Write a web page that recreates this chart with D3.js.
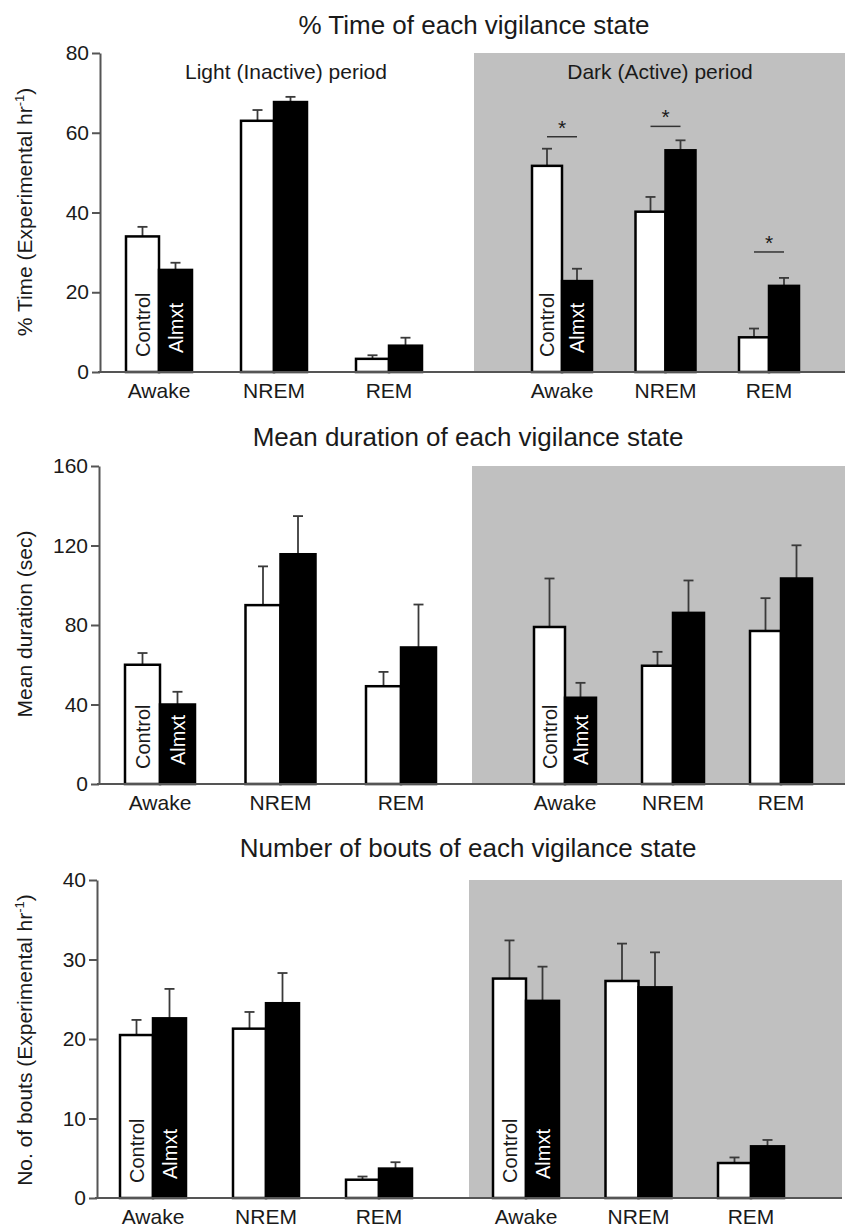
<!DOCTYPE html>
<html>
<head>
<meta charset="utf-8">
<script src="https://cdn.jsdelivr.net/npm/d3@7"></script>
<style>
  body { margin: 0; background: #fff; }
  text { font-family: "Liberation Sans", Arial, sans-serif; fill: #1a1a1a; }
</style>
</head>
<body>
<script>
const states = ["Awake", "NREM", "REM"];
const periods = ["Light", "Dark"];

// % time (light Awake, NREM, REM, then dark Awake, NREM, REM)
const timeControl = [34.0, 63.0, 3.3, 51.7, 40.2, 8.7];
const timeControlErr = [2.4, 2.7, 0.9, 4.3, 3.7, 2.2];
const timeAlmxt = [25.6, 67.7, 6.6, 22.8, 55.6, 21.6];
const timeAlmxtErr = [1.8, 1.3, 2.0, 3.1, 2.5, 2.0];

// mean duration (sec)
const durControl = [60, 90, 49.2, 79, 59.5, 77];
const durControlErr = [5.9, 19.5, 7.2, 24.4, 7.0, 16.5];
const durAlmxt = [40, 115.6, 68.7, 43.4, 86.1, 103.4];
const durAlmxtErr = [6.4, 19.2, 21.6, 7.5, 16.3, 16.7];

// number of bouts
const boutsControl = [20.5, 21.3, 2.3, 27.6, 27.3, 4.4];
const boutsControlErr = [1.9, 2.1, 0.4, 4.8, 4.7, 0.7];
const boutsAlmxt = [22.6, 24.5, 3.7, 24.8, 26.5, 6.5];
const boutsAlmxtErr = [3.7, 3.8, 0.8, 4.3, 4.4, 0.8];

// significance markers (dark period only)
const sigStates = ["Awake", "NREM", "REM"];
const sigLevels = [59, 61.6, 30.1];

const svg = d3.select("body").append("svg")
  .attr("width", 848).attr("height", 1227);

const panels = [
  {
    title: "% Time of each vigilance state", titleX: 474, titleY: 34,
    ylabel: ["% Time (Experimental hr", "-1", ")"], ylabelY: 212,
    max: 80, ticks: [0, 20, 40, 60, 80],
    top: 53, base: 372, axisX: 100,
    light: [159, 389], dark: [562, 769], bw: [33, 30], shade: [474, 845],
    control: timeControl, controlErr: timeControlErr,
    almxt: timeAlmxt, almxtErr: timeAlmxtErr,
    periodLabels: true, sig: true
  },
  {
    title: "Mean duration of each vigilance state", titleX: 468, titleY: 446,
    ylabel: ["Mean duration (sec)"], ylabelY: 624,
    max: 160, ticks: [0, 40, 80, 120, 160],
    top: 466, base: 784, axisX: 99,
    light: [160, 401], dark: [565, 781], bw: [35, 31], shade: [472, 845],
    control: durControl, controlErr: durControlErr,
    almxt: durAlmxt, almxtErr: durAlmxtErr
  },
  {
    title: "Number of bouts of each vigilance state", titleX: 468, titleY: 857,
    ylabel: ["No. of bouts (Experimental hr", "-1", ")"], ylabelY: 1040,
    max: 40, ticks: [0, 10, 20, 30, 40],
    top: 880, base: 1198, axisX: 97,
    light: [153, 379], dark: [526, 751], bw: [33, 33], shade: [469, 842],
    control: boutsControl, controlErr: boutsControlErr,
    almxt: boutsAlmxt, almxtErr: boutsAlmxtErr
  }
];

panels.forEach(drawPanel);

function drawPanel(p) {
  const g = svg.append("g");
  const y = d3.scaleLinear().domain([0, p.max]).range([p.base, p.top]);
  const xs = {
    Light: d3.scalePoint().domain(states).range(p.light),
    Dark: d3.scalePoint().domain(states).range(p.dark)
  };

  // dark period shading
  g.append("rect")
    .attr("x", p.shade[0]).attr("y", p.top)
    .attr("width", p.shade[1] - p.shade[0]).attr("height", p.base - p.top)
    .attr("fill", "#c0c0c0");

  // title
  g.append("text").attr("x", p.titleX).attr("y", p.titleY)
    .attr("text-anchor", "middle").attr("font-size", 26)
    .text(p.title);

  // y label
  const yl = g.append("text")
    .attr("transform", `translate(32,${p.ylabelY}) rotate(-90)`)
    .attr("text-anchor", "middle").attr("font-size", 21);
  yl.append("tspan").text(p.ylabel[0]);
  if (p.ylabel.length > 1) {
    yl.append("tspan").attr("dy", -8).attr("font-size", 13).text(p.ylabel[1]);
    yl.append("tspan").attr("dy", 8).text(p.ylabel[2]);
  }

  const rows = [];
  periods.forEach((per, pi) => states.forEach((st, si) => {
    const i = pi * 3 + si;
    rows.push({
      per, st, pi, cx: xs[per](st), bw: p.bw[pi],
      c: p.control[i], ce: p.controlErr[i],
      a: p.almxt[i], ae: p.almxtErr[i]
    });
  }));

  // error bars (drawn under the bars)
  const eb = g.append("g").attr("stroke", "#3a3a3a").attr("stroke-width", 1.8);
  rows.forEach(d => {
    [[d.cx - d.bw / 2, d.c, d.ce], [d.cx + d.bw / 2, d.a, d.ae]].forEach(([x, v, e]) => {
      eb.append("line").attr("x1", x).attr("x2", x).attr("y1", y(v)).attr("y2", y(v + e));
      eb.append("line").attr("x1", x - 5).attr("x2", x + 5).attr("y1", y(v + e)).attr("y2", y(v + e));
    });
  });

  // bars
  rows.forEach(d => {
    g.append("rect")
      .attr("x", d.cx - d.bw).attr("y", y(d.c))
      .attr("width", d.bw).attr("height", p.base - y(d.c))
      .attr("fill", "#fff").attr("stroke", "#000").attr("stroke-width", 2.5);
    g.append("rect")
      .attr("x", d.cx).attr("y", y(d.a))
      .attr("width", d.bw).attr("height", p.base - y(d.a))
      .attr("fill", "#000").attr("stroke", "#000").attr("stroke-width", 2.5);
  });

  // in-bar labels on Awake groups
  rows.filter(d => d.st === "Awake").forEach(d => {
    g.append("text")
      .attr("transform", `translate(${d.cx - d.bw / 2 + 7},${p.base - 15}) rotate(-90)`)
      .attr("font-size", 20).text("Control");
    g.append("text")
      .attr("transform", `translate(${d.cx + d.bw / 2 + 7},${p.base - 19}) rotate(-90)`)
      .attr("font-size", 20).style("fill", "#fff").text("Almxt");
  });

  // x labels
  rows.forEach(d => {
    g.append("text").attr("x", d.cx).attr("y", p.base + 26)
      .attr("text-anchor", "middle").attr("font-size", 21).text(d.st);
  });

  // x baseline
  g.append("line")
    .attr("x1", p.axisX - 2).attr("x2", p.shade[1])
    .attr("y1", p.base).attr("y2", p.base)
    .attr("stroke", "#555").attr("stroke-width", 2);

  // y axis
  const ax = g.append("g").attr("transform", `translate(${p.axisX},0)`)
    .call(d3.axisLeft(y).tickValues(p.ticks).tickSize(8).tickSizeOuter(0).tickPadding(3));
  ax.select(".domain").attr("stroke", "#555").attr("stroke-width", 2);
  ax.selectAll(".tick line").attr("stroke", "#555").attr("stroke-width", 2);
  ax.selectAll(".tick text").attr("font-size", 21)
    .style("font-family", '"Liberation Sans", Arial, sans-serif').style("fill", "#1a1a1a");

  if (p.periodLabels) {
    g.append("text").attr("x", 286).attr("y", 79)
      .attr("text-anchor", "middle").attr("font-size", 21).text("Light (Inactive) period");
    g.append("text").attr("x", 660).attr("y", 79)
      .attr("text-anchor", "middle").attr("font-size", 21).text("Dark (Active) period");
  }

  if (p.sig) {
    sigStates.forEach((st, i) => {
      const cx = xs.Dark(st);
      const ly = y(sigLevels[i]);
      g.append("line").attr("x1", cx - 15).attr("x2", cx + 15)
        .attr("y1", ly).attr("y2", ly).attr("stroke", "#333").attr("stroke-width", 1.5);
      g.append("text").attr("x", cx).attr("y", ly - 2)
        .attr("text-anchor", "middle").attr("font-size", 21).text("*");
    });
  }
}
</script>
</body>
</html>
